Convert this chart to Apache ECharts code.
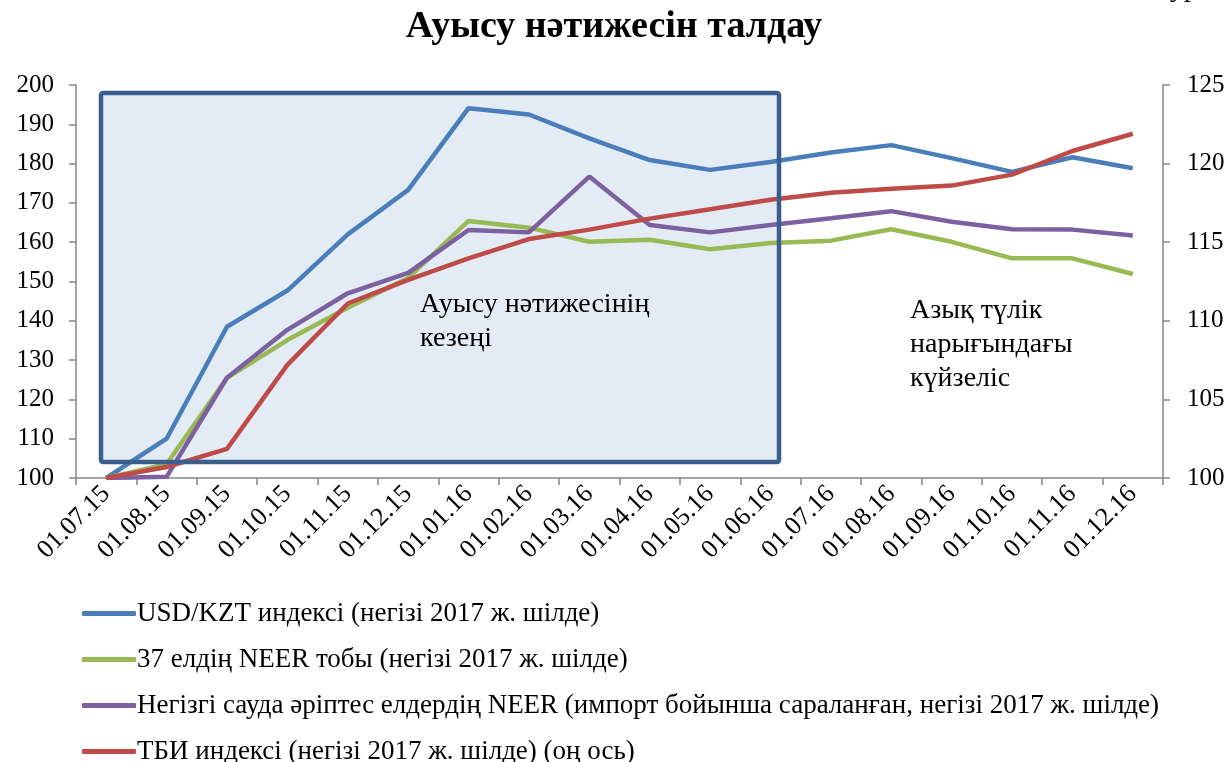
<!DOCTYPE html>
<html>
<head>
<meta charset="utf-8">
<script src="https://cdn.jsdelivr.net/npm/echarts@6/dist/echarts.min.js"></script>
<style>
  html, body { margin: 0; padding: 0; background: #fff; }
  #chart { width: 1228px; height: 762px; }
</style>
</head>
<body>
<div id="chart"></div>
<script>
// даты (ось X)
var dates = ['01.07.15','01.08.15','01.09.15','01.10.15','01.11.15','01.12.15',
  '01.01.16','01.02.16','01.03.16','01.04.16','01.05.16','01.06.16',
  '01.07.16','01.08.16','01.09.16','01.10.16','01.11.16','01.12.16'];

var usdKzt = [100, 110, 138.5, 147.7, 162, 173.3, 194.1, 192.5, 186.4, 180.9, 178.4, 180.4,
  182.8, 184.7, 181.4, 177.9, 181.6, 178.8];
var neer37 = [100, 103.5, 125.5, 135.1, 143.3, 150.9, 165.4, 163.7, 160.1, 160.6, 158.2, 159.8,
  160.4, 163.3, 160.1, 155.9, 155.9, 151.9];
var neerPartners = [100, 100.3, 125.5, 137.7, 147, 152.2, 163.1, 162.5, 176.7, 164.4, 162.5, 164.4,
  166.1, 167.9, 165.2, 163.3, 163.2, 161.7];
var cpi = [100, 100.7, 101.85, 107.2, 111.1, 112.6, 113.97, 115.2, 115.8, 116.5, 117.1, 117.7,
  118.15, 118.4, 118.6, 119.3, 120.8, 121.9];

var names = [
  'USD/KZT индексі (негізі 2017 ж. шілде)',
  '37 елдің NEER тобы (негізі 2017 ж. шілде)',
  'Негізгі сауда әріптес елдердің NEER (импорт бойынша сараланған, негізі 2017 ж. шілде)',
  'ТБИ индексі (негізі 2017 ж. шілде) (оң ось)'
];
var colors = ['#4a7ebb', '#98b954', '#7d60a0', '#be4b48'];

var font = '"Liberation Serif", "Times New Roman", serif';
var axisGray = '#868686';

var myChart = echarts.init(document.getElementById('chart'));

function mkLine(name, data, color, yIdx) {
  return {
    name: name,
    type: 'line',
    yAxisIndex: yIdx,
    data: data,
    symbol: 'none',
    lineStyle: { color: color, width: 4.5 },
    itemStyle: { color: color },
    z: 3
  };
}

var option = {
  animation: false,
  color: colors,
  title: {
    text: 'Ауысу нәтижесін талдау',
    left: 'center',
    top: 3,
    textStyle: { fontFamily: font, fontSize: 38, fontWeight: 'bold', color: '#000' }
  },
  grid: { left: 76, right: 65, top: 85, bottom: 284 },
  legend: {
    orient: 'vertical',
    left: 82,
    top: 600,
    height: 220,
    padding: 0,
    itemWidth: 54,
    itemHeight: 5,
    itemGap: 19,
    icon: 'roundRect',
    textStyle: { fontFamily: font, fontSize: 27, color: '#000', padding: [0, 0, 0, -4] },
    data: names
  },
  xAxis: {
    type: 'category',
    data: dates,
    boundaryGap: true,
    axisLine: { lineStyle: { color: axisGray, width: 1.5 } },
    axisTick: { show: true, length: 7, lineStyle: { color: axisGray, width: 1.5 } },
    axisLabel: { rotate: 45, fontFamily: font, fontSize: 26, color: '#000', margin: 12, interval: 0 }
  },
  yAxis: [
    {
      type: 'value', min: 100, max: 200, interval: 10,
      splitLine: { show: false },
      axisLine: { show: true, lineStyle: { color: axisGray, width: 1.5 } },
      axisTick: { show: true, length: 7, lineStyle: { color: axisGray, width: 1.5 } },
      axisLabel: { fontFamily: font, fontSize: 25, color: '#000', margin: 22 }
    },
    {
      type: 'value', min: 100, max: 125, interval: 5,
      splitLine: { show: false },
      axisLine: { show: true, lineStyle: { color: axisGray, width: 1.5 } },
      axisTick: { show: true, length: 7, lineStyle: { color: axisGray, width: 1.5 } },
      axisLabel: { fontFamily: font, fontSize: 25, color: '#000', margin: 24 }
    }
  ],
  graphic: [
    // фон прямоугольника (под линиями)
    { type: 'rect', z: 0, shape: { x: 101, y: 93, width: 678, height: 369 },
      style: { fill: '#e3ebf5', stroke: null } },
    // рамка поверх линий
    { type: 'rect', z: 10, shape: { x: 101, y: 93, width: 678, height: 369, r: 2 },
      style: { fill: null, stroke: '#3b5f8c', lineWidth: 4.5 } },
    { type: 'text', z: 11, left: 420, top: 288,
      style: { text: 'Ауысу нәтижесінің\nкезеңі', font: '28px ' + font, fill: '#000', lineHeight: 34 } },
    { type: 'text', z: 11, left: 910, top: 294,
      style: { text: 'Азық түлік\nнарығындағы\nкүйзеліс', font: '28px ' + font, fill: '#000', lineHeight: 34 } },
    { type: 'text', z: 11, left: 1170, top: -25,
      style: { text: 'ур', font: '28px ' + font, fill: '#000' } }
  ],
  series: [
    mkLine(names[0], usdKzt, colors[0], 0),
    mkLine(names[1], neer37, colors[1], 0),
    mkLine(names[2], neerPartners, colors[2], 0),
    mkLine(names[3], cpi, colors[3], 1)
  ]
};

myChart.setOption(option);
</script>
</body>
</html>
